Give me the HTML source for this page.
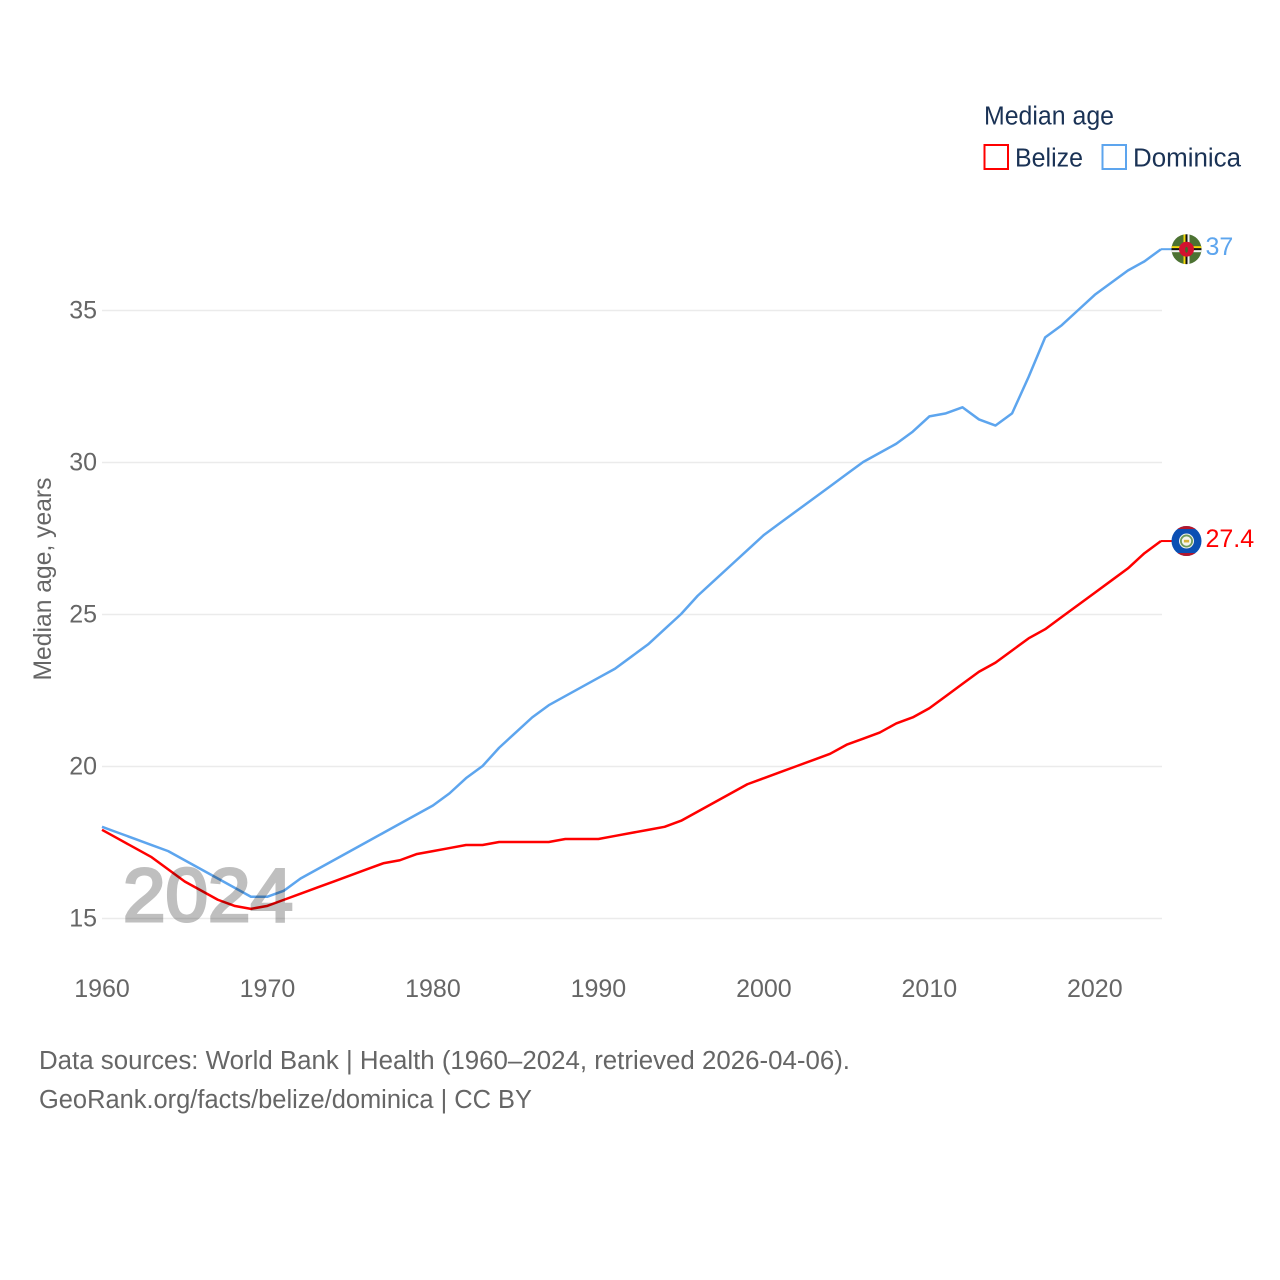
<!DOCTYPE html>
<html lang="en">
<head>
<meta charset="utf-8">
<title>Median age: Belize and Dominica</title>
<style>
html,body{margin:0;padding:0;background:#fff;}
#chart{display:block;width:1280px;height:1280px;font-family:"Liberation Sans",sans-serif;}
</style>
</head>
<body>
<svg id="chart" xmlns="http://www.w3.org/2000/svg" width="1280" height="1280" viewBox="0 0 1280 1280">
  <rect x="0" y="0" width="1280" height="1280" fill="#ffffff"/>
  <g id="grid"></g>
  <g id="y-ticks"></g>
  <g id="x-ticks"></g>
  <text transform="translate(51,579) rotate(-90)" text-anchor="middle" font-size="25" fill="#666666" textLength="203" lengthAdjust="spacingAndGlyphs">Median age, years</text>
  <g id="series"></g>
  <text x="123" y="921" font-size="75" fill="#bfbfbf" stroke="#bfbfbf" stroke-width="3" style="mix-blend-mode:multiply" textLength="170" lengthAdjust="spacingAndGlyphs">2024</text>

  <defs>
    <clipPath id="flag-clip"><circle cx="0" cy="0" r="15"/></clipPath>
  </defs>
  <g id="flag-dominica">
    <g clip-path="url(#flag-clip)">
      <rect x="-15" y="-15" width="30" height="30" fill="#4c7232"/>
      <rect x="-15" y="-3" width="30" height="2" fill="#f5d90a"/>
      <rect x="-15" y="-1" width="30" height="2" fill="#111111"/>
      <rect x="-15" y="1" width="30" height="2" fill="#f2f2f2"/>
      <rect x="-3" y="-15" width="2" height="30" fill="#f5d90a"/>
      <rect x="-1" y="-15" width="2" height="30" fill="#111111"/>
      <rect x="1" y="-15" width="2" height="30" fill="#f2f2f2"/>
      <circle cx="0" cy="0" r="7.5" fill="#d3112f"/>
      <ellipse cx="0" cy="0.5" rx="1.4" ry="3" fill="#3f6b2a"/>
    </g>
  </g>
  <g id="flag-belize">
    <g clip-path="url(#flag-clip)">
      <rect x="-15" y="-15" width="30" height="30" fill="#0b4fb3"/>
      <rect x="-15" y="-15" width="30" height="3" fill="#b5162b"/>
      <rect x="-15" y="12" width="30" height="3" fill="#b5162b"/>
      <circle cx="0" cy="0" r="7.5" fill="#f4f4ee"/>
      <circle cx="0" cy="0" r="5.6" fill="none" stroke="#6f9a5a" stroke-width="1.8"/>
      <circle cx="0" cy="0" r="3.2" fill="#f4f4ee"/>
      <rect x="-2.6" y="-1.2" width="5.2" height="2.6" fill="#d8b23a"/>
    </g>
  </g>
  <g id="end-labels"></g>

  <g>
    <text x="984" y="124.5" font-size="25.5" fill="#1a3255" textLength="130" lengthAdjust="spacingAndGlyphs">Median age</text>
    <g>
      <rect x="984.5" y="145" width="23.5" height="24" fill="none" stroke="#ff0000" stroke-width="2"/>
      <text x="1015" y="166.5" font-size="25.5" fill="#1a3255" textLength="68" lengthAdjust="spacingAndGlyphs">Belize</text>
    </g>
    <g>
      <rect x="1102.5" y="145" width="23.5" height="24" fill="none" stroke="#5da5ee" stroke-width="2"/>
      <text x="1133" y="166.5" font-size="25.5" fill="#1a3255" textLength="108" lengthAdjust="spacingAndGlyphs">Dominica</text>
    </g>
  </g>

  <text x="39" y="1069" font-size="25.5" fill="#666666" textLength="811" lengthAdjust="spacingAndGlyphs">Data sources: World Bank | Health (1960–2024, retrieved 2026-04-06).</text>
  <text x="39" y="1108" font-size="25.5" fill="#666666" textLength="493" lengthAdjust="spacingAndGlyphs">GeoRank.org/facts/belize/dominica | CC BY</text>
</svg>
<script>
const years = [1960,1961,1962,1963,1964,1965,1966,1967,1968,1969,1970,1971,1972,1973,1974,1975,1976,1977,1978,1979,1980,1981,1982,1983,1984,1985,1986,1987,1988,1989,1990,1991,1992,1993,1994,1995,1996,1997,1998,1999,2000,2001,2002,2003,2004,2005,2006,2007,2008,2009,2010,2011,2012,2013,2014,2015,2016,2017,2018,2019,2020,2021,2022,2023,2024];
const belize = [17.9,17.6,17.3,17.0,16.6,16.2,15.9,15.6,15.4,15.3,15.4,15.6,15.8,16.0,16.2,16.4,16.6,16.8,16.9,17.1,17.2,17.3,17.4,17.4,17.5,17.5,17.5,17.5,17.6,17.6,17.6,17.7,17.8,17.9,18.0,18.2,18.5,18.8,19.1,19.4,19.6,19.8,20.0,20.2,20.4,20.7,20.9,21.1,21.4,21.6,21.9,22.3,22.7,23.1,23.4,23.8,24.2,24.5,24.9,25.3,25.7,26.1,26.5,27.0,27.4];
const dominica = [18.0,17.8,17.6,17.4,17.2,16.9,16.6,16.3,16.0,15.7,15.7,15.9,16.3,16.6,16.9,17.2,17.5,17.8,18.1,18.4,18.7,19.1,19.6,20.0,20.6,21.1,21.6,22.0,22.3,22.6,22.9,23.2,23.6,24.0,24.5,25.0,25.6,26.1,26.6,27.1,27.6,28.0,28.4,28.8,29.2,29.6,30.0,30.3,30.6,31.0,31.5,31.6,31.8,31.4,31.2,31.6,32.8,34.1,34.5,35.0,35.5,35.9,36.3,36.6,37.0];
const yTicks = [15,20,25,30,35];
const xTicks = [1960,1970,1980,1990,2000,2010,2020];

const SVG_NS = 'http://www.w3.org/2000/svg';
const PLOT_LEFT = 102;
const PLOT_RIGHT = 1161;
function xScale(year) {
  return PLOT_LEFT + (year - 1960) * (PLOT_RIGHT - PLOT_LEFT) / (2024 - 1960);
}
function yScale(value) {
  return 918.5 - (value - 15) * 30.4;
}
function make(tag, parent) {
  const el = document.createElementNS(SVG_NS, tag);
  parent.appendChild(el);
  return el;
}

const gridLayer = document.getElementById('grid');
const yTickLayer = document.getElementById('y-ticks');
yTicks.forEach(function (tick) {
  const line = make('line', gridLayer);
  
  
  line.setAttribute('x1', PLOT_LEFT);
  line.setAttribute('x2', PLOT_RIGHT + 1);
  line.setAttribute('y1', yScale(tick));
  line.setAttribute('y2', yScale(tick));
  line.setAttribute('stroke', '#ebebeb');
  line.setAttribute('stroke-width', '1.5');
  const label = make('text', yTickLayer);
  
  
  label.setAttribute('x', 97);
  label.setAttribute('y', yScale(tick) + 8);
  label.setAttribute('text-anchor', 'end');
  label.setAttribute('font-size', '25');
  label.setAttribute('fill', '#666666');
  label.textContent = tick;
});

const xTickLayer = document.getElementById('x-ticks');
xTicks.forEach(function (tick) {
  const label = make('text', xTickLayer);
  
  
  label.setAttribute('x', xScale(tick));
  label.setAttribute('y', 997);
  label.setAttribute('text-anchor', 'middle');
  label.setAttribute('font-size', '25');
  label.setAttribute('fill', '#666666');
  label.textContent = tick;
});

const seriesLayer = document.getElementById('series');
const labelLayer = document.getElementById('end-labels');

function drawSeries(key, values, color, flagId) {
  const points = values.map(function (v, i) {
    return xScale(years[i]).toFixed(2) + ',' + (yScale(v) - 0.5).toFixed(2);
  });
  const lastY = yScale(values[values.length - 1]) - 0.5;
  const line = make('polyline', seriesLayer);
  
  
  line.setAttribute('points', points.join(' '));
  line.setAttribute('fill', 'none');
  line.setAttribute('stroke', color);
  line.setAttribute('stroke-width', '2.5');
  line.setAttribute('stroke-linejoin', 'round');

  const connector = make('line', seriesLayer);
  
  
  connector.setAttribute('x1', PLOT_RIGHT);
  connector.setAttribute('x2', 1175);
  connector.setAttribute('y1', lastY);
  connector.setAttribute('y2', lastY);
  connector.setAttribute('stroke', color);
  connector.setAttribute('stroke-width', '2');

  document.getElementById(flagId).setAttribute('transform', 'translate(1186.5,' + lastY + ')');

  const label = make('text', labelLayer);
  
  
  label.setAttribute('x', 1205.5);
  label.setAttribute('y', lastY + 6);
  label.setAttribute('font-size', '25');
  label.setAttribute('fill', color);
  label.textContent = values[values.length - 1];
}

drawSeries('dominica', dominica, '#5da5ee', 'flag-dominica');
drawSeries('belize', belize, '#ff0000', 'flag-belize');
</script>
</body>
</html>
